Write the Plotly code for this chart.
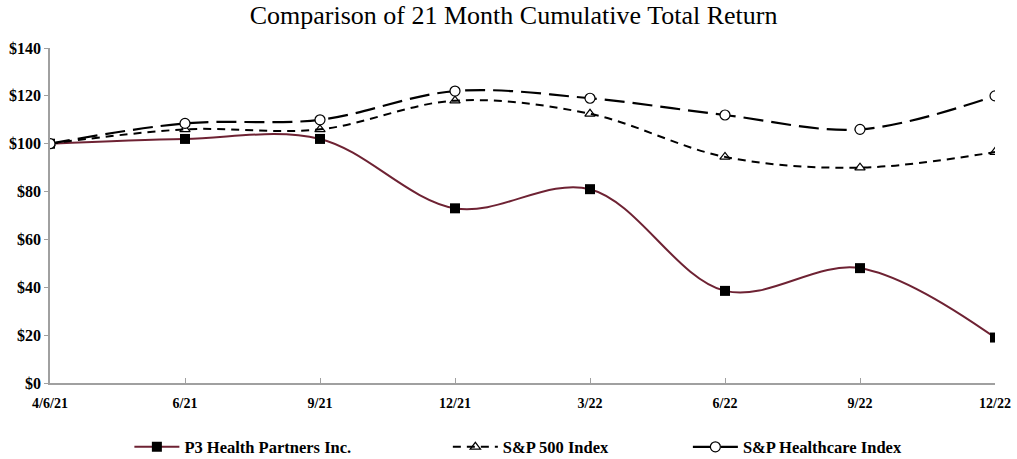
import plotly.graph_objects as go

categories = ["4/6/21", "6/21", "9/21", "12/21", "3/22", "6/22", "9/22", "12/22"]
p3_values = [100, 102, 102, 73, 81, 38.5, 48, 19]
sp500_values = [100, 106, 106, 118, 112.5, 94.5, 90, 96.5]
healthcare_values = [100, 108.5, 110, 122, 119, 112, 106, 120]
y_ticks = [0, 20, 40, 60, 80, 100, 120, 140]
y_tick_labels = ["$" + str(v) for v in y_ticks]

font_family = "Liberation Serif, Times New Roman, serif"

fig = go.Figure()
fig.add_trace(go.Scatter(
    x=categories, y=p3_values, name="<b>P3 Health Partners Inc.</b>", legend="legend",
    mode="lines+markers", line=dict(color="#6E2233", width=2, shape="spline"),
    marker=dict(symbol="square", size=10, color="black"),
))
fig.add_trace(go.Scatter(
    x=categories, y=sp500_values, name="<b>S&P 500 Index</b>", legend="legend2",
    mode="lines+markers", line=dict(color="black", width=2, shape="spline", dash="8px,6px"),
    marker=dict(symbol="triangle-up-open", size=9, color="black", line=dict(width=1.2)),
))
fig.add_trace(go.Scatter(
    x=categories, y=healthcare_values, name="<b>S&P Healthcare Index</b>", legend="legend3",
    mode="lines+markers", line=dict(color="black", width=2.2, shape="spline", dash="20px,8px"),
    marker=dict(symbol="circle", size=10, color="white", line=dict(color="black", width=1.2)),
))

leg_common = dict(orientation="h", yref="container", y=0.026, yanchor="middle", xanchor="left",
                  font=dict(family=font_family, size=16.5, color="black"),
                  bgcolor="rgba(0,0,0,0)", itemwidth=45)

fig.update_layout(
    width=1017, height=459,
    margin=dict(l=50, r=22, t=48, b=76),
    paper_bgcolor="white", plot_bgcolor="white",
    title=dict(text="Comparison of 21 Month Cumulative Total Return",
               x=0.505, xanchor="center", y=0.968, yanchor="middle",
               font=dict(family=font_family, size=26, color="black")),
    showlegend=True,
    legend=dict(x=0.084, **leg_common),
    legend2=dict(x=0.421, **leg_common),
    legend3=dict(x=0.675, **leg_common),
    font=dict(family=font_family, color="black"),
)
fig.update_xaxes(
    type="category", range=[0, len(categories) - 1], automargin=False,
    showline=True, linecolor="#A0A0A0", linewidth=1.5,
    ticks="inside", ticklen=5, tickcolor="#A0A0A0",
    showgrid=False, zeroline=False,
    tickfont=dict(family=font_family, size=14, color="black"),
    tickprefix="<b>", ticksuffix="</b>", ticklabelstandoff=6,
)
fig.update_yaxes(
    range=[0, 140], tickvals=y_ticks, ticktext=["<b>" + t + "</b>" for t in y_tick_labels],
    automargin=False,
    showline=True, linecolor="#A0A0A0", linewidth=1.5,
    ticks="outside", ticklen=4, tickcolor="#A0A0A0",
    showgrid=False, zeroline=False,
    tickfont=dict(family=font_family, size=16, color="black"),
)

fig.write_html("out.html", config={"displayModeBar": False},
               post_script="document.body.style.margin='0';")
